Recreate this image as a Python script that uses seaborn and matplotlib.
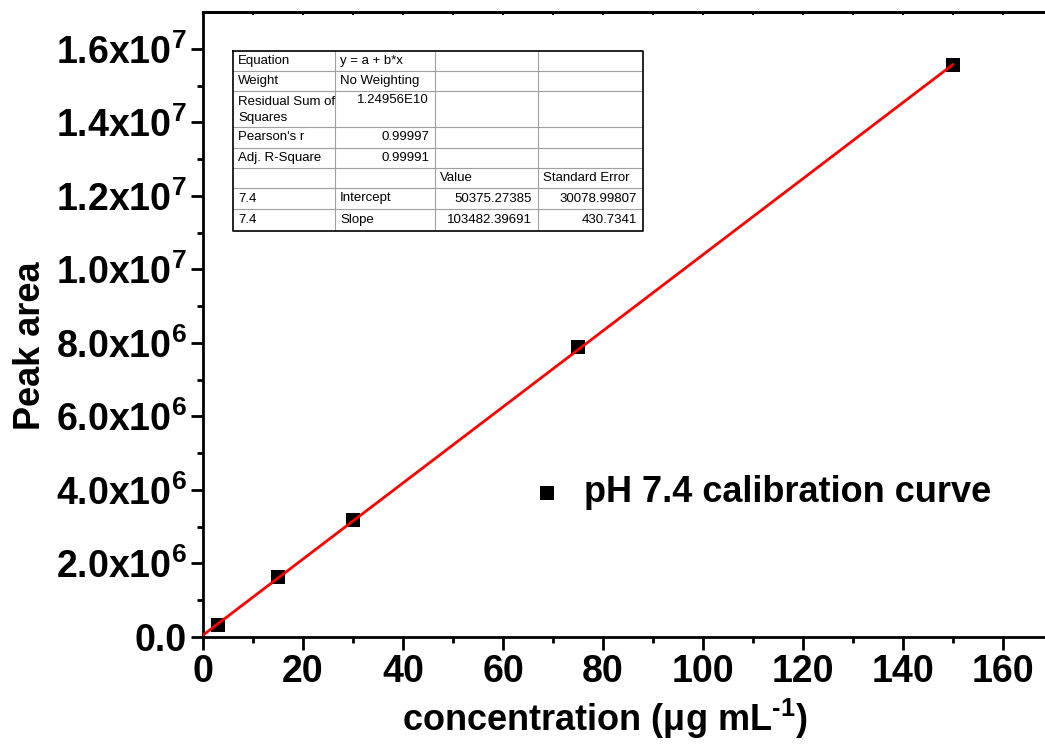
import numpy as np
import pandas as pd
import matplotlib
matplotlib.use("Agg")
import matplotlib.pyplot as plt
import seaborn as sns

# ---- data ----
concentration = [3, 15, 30, 75, 150]
peak_area = [0.33e6, 1.63e6, 3.18e6, 7.89e6, 15.57e6]
fit_intercept = 50375.27385
fit_slope = 103482.39691
fit_x = [0, 150]
y_ticks = [0, 2e6, 4e6, 6e6, 8e6, 1.0e7, 1.2e7, 1.4e7, 1.6e7]
y_tick_labels = ['0.0', r'2.0x10$^{6}$', r'4.0x10$^{6}$', r'6.0x10$^{6}$', r'8.0x10$^{6}$',
                 r'1.0x10$^{7}$', r'1.2x10$^{7}$', r'1.4x10$^{7}$', r'1.6x10$^{7}$']
x_ticks = [0, 20, 40, 60, 80, 100, 120, 140, 160]
legend_label = 'pH 7.4 calibration curve'
table_rows = [
    ['Equation', 'y = a + b*x', '', ''],
    ['Weight', 'No Weighting', '', ''],
    ['Residual Sum of\nSquares', '1.24956E10', '', ''],
    ["Pearson's r", '0.99997', '', ''],
    ['Adj. R-Square', '0.99991', '', ''],
    ['', '', 'Value', 'Standard Error'],
    ['7.4', 'Intercept', '50375.27385', '30078.99807'],
    ['7.4', 'Slope', '103482.39691', '430.7341'],
]

sns.set_style('ticks')
plt.rcParams['font.family'] = ['Liberation Sans', 'DejaVu Sans']
plt.rcParams['font.weight'] = 'bold'
plt.rcParams['mathtext.fontset'] = 'custom'
plt.rcParams['mathtext.rm'] = 'Liberation Sans:bold'
plt.rcParams['mathtext.it'] = 'Liberation Sans:bold'
plt.rcParams['mathtext.bf'] = 'Liberation Sans:bold'
plt.rcParams['mathtext.default'] = 'rm'
for k in ['text.color', 'axes.labelcolor', 'xtick.color', 'ytick.color', 'axes.edgecolor']:
    plt.rcParams[k] = 'black'

W, H = 1045, 750
fig = plt.figure(figsize=(W / 100, H / 100), dpi=100)
ax = fig.add_axes([203 / W, 1 - 637 / H, 850 / W, 625 / H])

df = pd.DataFrame({'x': concentration, 'y': peak_area})
sns.scatterplot(data=df, x='x', y='y', marker='s', s=110, color='black',
                edgecolor='black', linewidth=0, zorder=3, ax=ax, label=legend_label)
fx = np.array(fit_x, dtype=float)
fdf = pd.DataFrame({'x': fx, 'y': fit_intercept + fit_slope * fx})
sns.lineplot(data=fdf, x='x', y='y', color='red', linewidth=2.0, zorder=4, ax=ax, legend=False)

ax.set_xlim(0, 170)
ax.set_ylim(0, 1.7e7)
ax.set_xticks(x_ticks)
ax.set_xticklabels([str(t) for t in x_ticks])
ax.set_xticks(np.arange(10, 170, 20), minor=True)
ax.set_yticks(y_ticks)
ax.set_yticklabels(y_tick_labels)
ax.set_yticks(np.arange(1e6, 1.7e7, 2e6), minor=True)

for s in ['left', 'bottom', 'top', 'right']:
    ax.spines[s].set_visible(True)
    ax.spines[s].set_linewidth(2.0)
    ax.spines[s].set_color('black')
ax.tick_params(axis='both', which='major', direction='out', length=9, width=2.0,
               labelsize=27, pad=3, colors='black')
ax.tick_params(axis='both', which='minor', direction='out', length=4.5, width=2.0, colors='black')
# top ticks inward small
ax2 = ax.secondary_xaxis('top')
ax2.set_xticks(x_ticks)
ax2.set_xticks(np.arange(10, 170, 20), minor=True)
ax2.tick_params(which='both', direction='in', length=2.5, width=1.5, labeltop=False, colors='black')
ax2.spines['top'].set_linewidth(2.0)
ax2.spines['top'].set_color('black')
ax.tick_params(axis='x', which='both', top=False)
for lab in ax.get_xticklabels() + ax.get_yticklabels():
    lab.set_fontweight('bold')

ax.set_xlabel('concentration ($\\mu$g mL$^{\u2010 1}$)', fontsize=26, fontweight='bold')
ax.set_ylabel('Peak area', fontsize=26, fontweight='bold')
ax.xaxis.set_label_coords(0.472, -0.096)
ax.yaxis.set_label_coords(-0.182, 0.466)

leg = ax.legend(loc='center left', bbox_to_anchor=(533 / W, 1 - 493 / H),
                bbox_transform=fig.transFigure, frameon=False, fontsize=26,
                handlelength=0.8, handletextpad=0.6, borderpad=0, borderaxespad=0,
                markerscale=0.9)
for t in leg.get_texts():
    t.set_fontweight('bold')
    t.set_color('black')

# ---- fit table ----
tax = fig.add_axes([233 / W, 1 - 231 / H, 410 / W, 180 / H])
tax.set_xlim(0, 410)
tax.set_ylim(180, 0)
tax.axis('off')
col_edges = [0, 102, 202, 305, 410]
row_edges = [0, 20, 40, 76, 97, 117, 137, 158, 180]
for xe in col_edges[1:-1]:
    tax.plot([xe, xe], [0, 180], color='#a0a0a0', lw=0.8)
for ye in row_edges[1:-1]:
    tax.plot([0, 410], [ye, ye], color='#a0a0a0', lw=0.8)
tax.plot([0, 410, 410, 0, 0], [0, 0, 180, 180, 0], color='black', lw=1.2, clip_on=False)

right_align = {(2, 1), (3, 1), (4, 1), (6, 2), (6, 3), (7, 2), (7, 3)}
fs = 9.5
for r, row in enumerate(table_rows):
    y0, y1 = row_edges[r], row_edges[r + 1]
    yc = (y0 + y1) / 2
    for c, txt in enumerate(row):
        if not txt:
            continue
        x0, x1 = col_edges[c], col_edges[c + 1]
        if r == 2 and c == 0:
            for k, line in enumerate(txt.split('\n')):
                tax.text(x0 + 5, y0 + 11 + 16 * k, line, fontsize=fs, fontweight='normal',
                         ha='left', va='center', color='black')
            continue
        yy = y0 + 9 if r == 2 else yc
        if (r, c) in right_align:
            tax.text(x1 - 6, yy, txt, fontsize=fs, fontweight='normal', ha='right', va='center',
                     color='black')
        else:
            tax.text(x0 + 5, yy, txt, fontsize=fs, fontweight='normal', ha='left', va='center',
                     color='black')

fig.savefig('out.png', dpi=100)
